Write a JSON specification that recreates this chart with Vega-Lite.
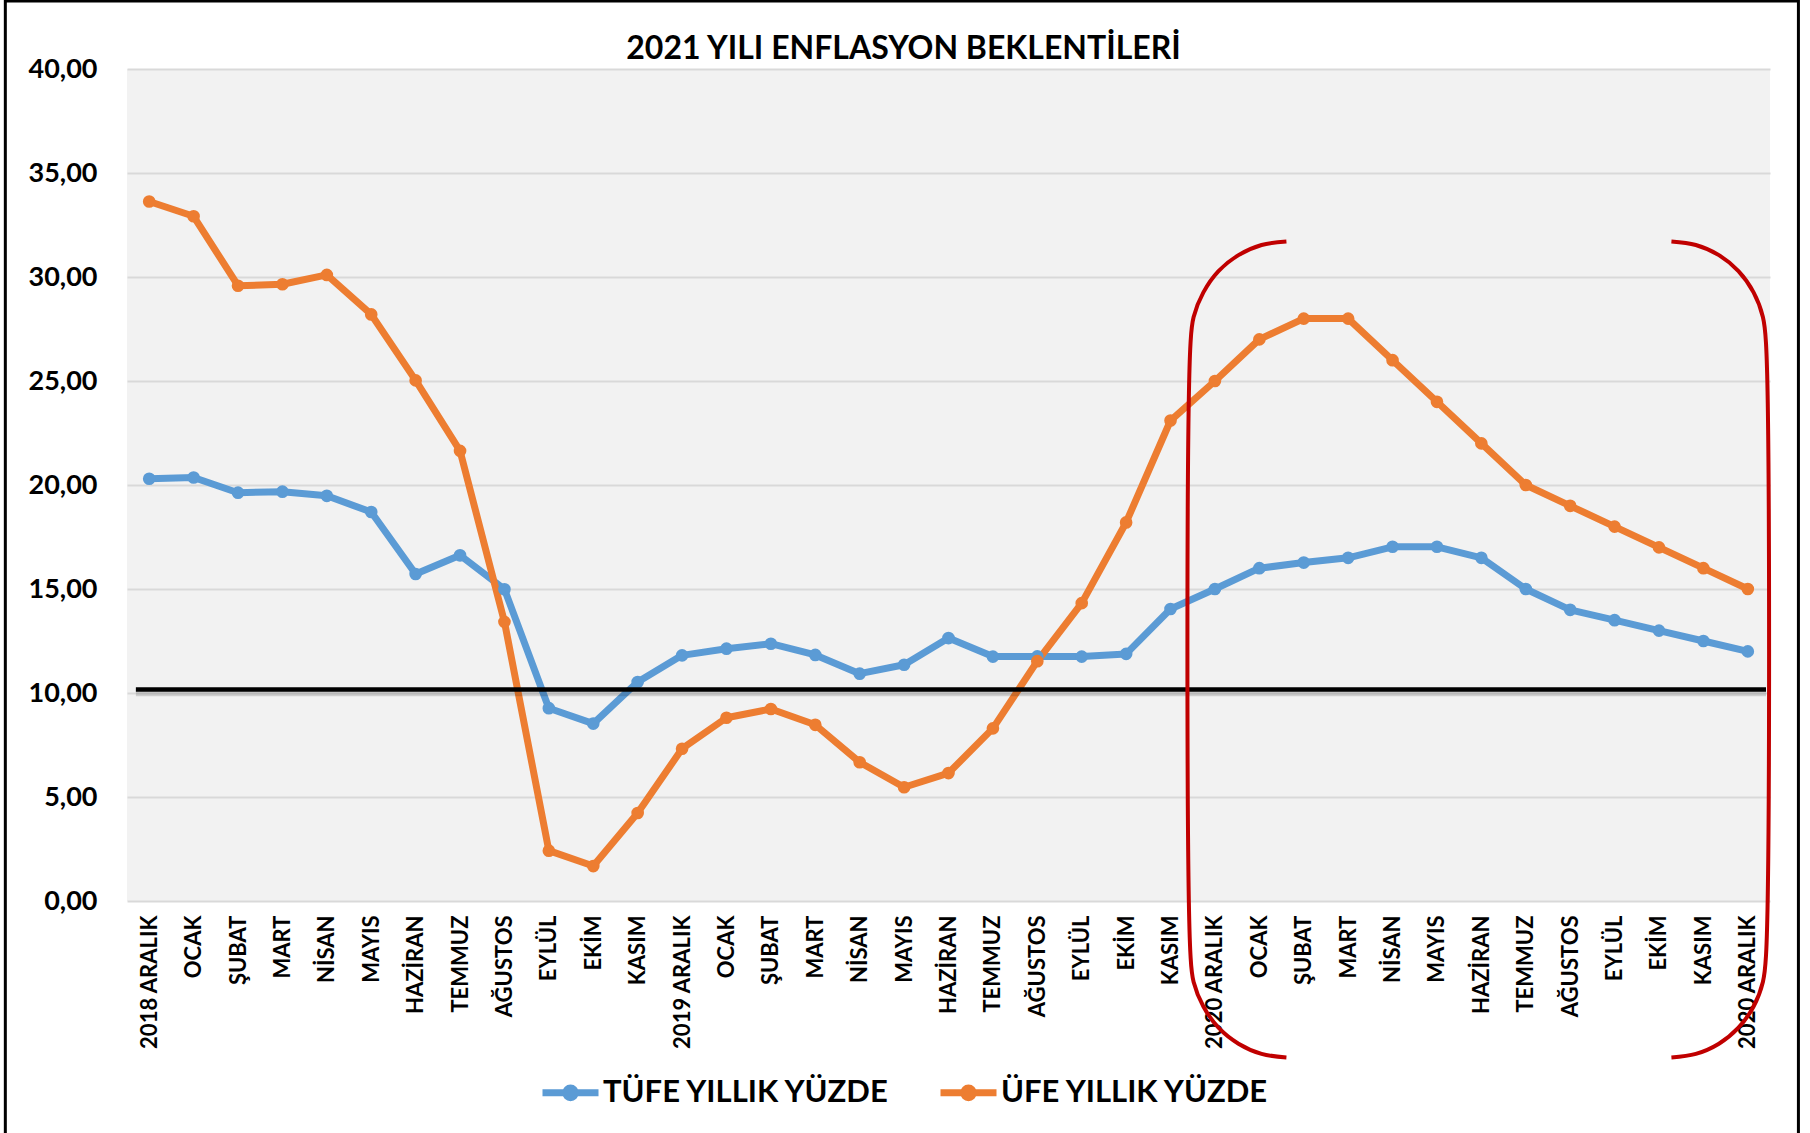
{
  "$schema": "https://vega.github.io/schema/vega-lite/v6.json",
  "width": 1643,
  "height": 832,
  "autosize": {"type": "none"},
  "padding": {"left": 127, "top": 69, "right": 40, "bottom": 232},
  "background": "white",
  "config": {
    "view": {"fill": "#F2F2F2", "stroke": null},
    "font": "Lato"
  },
  "title": {
    "text": "2021 YILI ENFLASYON BEKLENTİLERİ",
    "font": "Lato",
    "fontSize": 32,
    "fontWeight": "bold",
    "color": "#000000",
    "anchor": "middle",
    "frame": "group",
    "baseline": "alphabetic",
    "dx": -45,
    "dy": 102,
    "offset": 10
  },
  "resolve": {
    "scale": {"x": "independent", "y": "independent"},
    "axis": {"x": "independent", "y": "independent"}
  },
  "layer": [
    {
      "data": {
        "values": [
          {"ay": "2018 ARALIK", "seri": "TÜFE YILLIK YÜZDE", "deger": 20.30},
          {"ay": "OCAK", "seri": "TÜFE YILLIK YÜZDE", "deger": 20.36},
          {"ay": "ŞUBAT", "seri": "TÜFE YILLIK YÜZDE", "deger": 19.63},
          {"ay": "MART", "seri": "TÜFE YILLIK YÜZDE", "deger": 19.68},
          {"ay": "NİSAN", "seri": "TÜFE YILLIK YÜZDE", "deger": 19.48},
          {"ay": "MAYIS", "seri": "TÜFE YILLIK YÜZDE", "deger": 18.70},
          {"ay": "HAZİRAN", "seri": "TÜFE YILLIK YÜZDE", "deger": 15.72},
          {"ay": "TEMMUZ", "seri": "TÜFE YILLIK YÜZDE", "deger": 16.62},
          {"ay": "AĞUSTOS", "seri": "TÜFE YILLIK YÜZDE", "deger": 14.99},
          {"ay": "EYLÜL", "seri": "TÜFE YILLIK YÜZDE", "deger": 9.27},
          {"ay": "EKİM", "seri": "TÜFE YILLIK YÜZDE", "deger": 8.53},
          {"ay": "KASIM", "seri": "TÜFE YILLIK YÜZDE", "deger": 10.53},
          {"ay": "2019 ARALIK", "seri": "TÜFE YILLIK YÜZDE", "deger": 11.81},
          {"ay": "OCAK ", "seri": "TÜFE YILLIK YÜZDE", "deger": 12.13},
          {"ay": "ŞUBAT ", "seri": "TÜFE YILLIK YÜZDE", "deger": 12.37},
          {"ay": "MART ", "seri": "TÜFE YILLIK YÜZDE", "deger": 11.83},
          {"ay": "NİSAN ", "seri": "TÜFE YILLIK YÜZDE", "deger": 10.93},
          {"ay": "MAYIS ", "seri": "TÜFE YILLIK YÜZDE", "deger": 11.36},
          {"ay": "HAZİRAN ", "seri": "TÜFE YILLIK YÜZDE", "deger": 12.64},
          {"ay": "TEMMUZ ", "seri": "TÜFE YILLIK YÜZDE", "deger": 11.75},
          {"ay": "AĞUSTOS ", "seri": "TÜFE YILLIK YÜZDE", "deger": 11.76},
          {"ay": "EYLÜL ", "seri": "TÜFE YILLIK YÜZDE", "deger": 11.75},
          {"ay": "EKİM ", "seri": "TÜFE YILLIK YÜZDE", "deger": 11.88},
          {"ay": "KASIM ", "seri": "TÜFE YILLIK YÜZDE", "deger": 14.04},
          {"ay": "2020 ARALIK", "seri": "TÜFE YILLIK YÜZDE", "deger": 15.00},
          {"ay": "OCAK  ", "seri": "TÜFE YILLIK YÜZDE", "deger": 16.00},
          {"ay": "ŞUBAT  ", "seri": "TÜFE YILLIK YÜZDE", "deger": 16.27},
          {"ay": "MART  ", "seri": "TÜFE YILLIK YÜZDE", "deger": 16.50},
          {"ay": "NİSAN  ", "seri": "TÜFE YILLIK YÜZDE", "deger": 17.03},
          {"ay": "MAYIS  ", "seri": "TÜFE YILLIK YÜZDE", "deger": 17.03},
          {"ay": "HAZİRAN  ", "seri": "TÜFE YILLIK YÜZDE", "deger": 16.50},
          {"ay": "TEMMUZ  ", "seri": "TÜFE YILLIK YÜZDE", "deger": 15.00},
          {"ay": "AĞUSTOS  ", "seri": "TÜFE YILLIK YÜZDE", "deger": 14.00},
          {"ay": "EYLÜL  ", "seri": "TÜFE YILLIK YÜZDE", "deger": 13.50},
          {"ay": "EKİM  ", "seri": "TÜFE YILLIK YÜZDE", "deger": 13.00},
          {"ay": "KASIM  ", "seri": "TÜFE YILLIK YÜZDE", "deger": 12.50},
          {"ay": "2020 ARALIK ", "seri": "TÜFE YILLIK YÜZDE", "deger": 12.00},
          {"ay": "2018 ARALIK", "seri": "ÜFE YILLIK YÜZDE", "deger": 33.63},
          {"ay": "OCAK", "seri": "ÜFE YILLIK YÜZDE", "deger": 32.92},
          {"ay": "ŞUBAT", "seri": "ÜFE YILLIK YÜZDE", "deger": 29.58},
          {"ay": "MART", "seri": "ÜFE YILLIK YÜZDE", "deger": 29.65},
          {"ay": "NİSAN", "seri": "ÜFE YILLIK YÜZDE", "deger": 30.10},
          {"ay": "MAYIS", "seri": "ÜFE YILLIK YÜZDE", "deger": 28.20},
          {"ay": "HAZİRAN", "seri": "ÜFE YILLIK YÜZDE", "deger": 25.03},
          {"ay": "TEMMUZ", "seri": "ÜFE YILLIK YÜZDE", "deger": 21.64},
          {"ay": "AĞUSTOS", "seri": "ÜFE YILLIK YÜZDE", "deger": 13.42},
          {"ay": "EYLÜL", "seri": "ÜFE YILLIK YÜZDE", "deger": 2.42},
          {"ay": "EKİM", "seri": "ÜFE YILLIK YÜZDE", "deger": 1.68},
          {"ay": "KASIM", "seri": "ÜFE YILLIK YÜZDE", "deger": 4.23},
          {"ay": "2019 ARALIK", "seri": "ÜFE YILLIK YÜZDE", "deger": 7.32},
          {"ay": "OCAK ", "seri": "ÜFE YILLIK YÜZDE", "deger": 8.81},
          {"ay": "ŞUBAT ", "seri": "ÜFE YILLIK YÜZDE", "deger": 9.23},
          {"ay": "MART ", "seri": "ÜFE YILLIK YÜZDE", "deger": 8.47},
          {"ay": "NİSAN ", "seri": "ÜFE YILLIK YÜZDE", "deger": 6.67},
          {"ay": "MAYIS ", "seri": "ÜFE YILLIK YÜZDE", "deger": 5.47},
          {"ay": "HAZİRAN ", "seri": "ÜFE YILLIK YÜZDE", "deger": 6.15},
          {"ay": "TEMMUZ ", "seri": "ÜFE YILLIK YÜZDE", "deger": 8.30},
          {"ay": "AĞUSTOS ", "seri": "ÜFE YILLIK YÜZDE", "deger": 11.53},
          {"ay": "EYLÜL ", "seri": "ÜFE YILLIK YÜZDE", "deger": 14.32},
          {"ay": "EKİM ", "seri": "ÜFE YILLIK YÜZDE", "deger": 18.20},
          {"ay": "KASIM ", "seri": "ÜFE YILLIK YÜZDE", "deger": 23.10},
          {"ay": "2020 ARALIK", "seri": "ÜFE YILLIK YÜZDE", "deger": 25.00},
          {"ay": "OCAK  ", "seri": "ÜFE YILLIK YÜZDE", "deger": 27.00},
          {"ay": "ŞUBAT  ", "seri": "ÜFE YILLIK YÜZDE", "deger": 28.00},
          {"ay": "MART  ", "seri": "ÜFE YILLIK YÜZDE", "deger": 28.00},
          {"ay": "NİSAN  ", "seri": "ÜFE YILLIK YÜZDE", "deger": 26.00},
          {"ay": "MAYIS  ", "seri": "ÜFE YILLIK YÜZDE", "deger": 24.00},
          {"ay": "HAZİRAN  ", "seri": "ÜFE YILLIK YÜZDE", "deger": 22.00},
          {"ay": "TEMMUZ  ", "seri": "ÜFE YILLIK YÜZDE", "deger": 20.00},
          {"ay": "AĞUSTOS  ", "seri": "ÜFE YILLIK YÜZDE", "deger": 19.00},
          {"ay": "EYLÜL  ", "seri": "ÜFE YILLIK YÜZDE", "deger": 18.00},
          {"ay": "EKİM  ", "seri": "ÜFE YILLIK YÜZDE", "deger": 17.00},
          {"ay": "KASIM  ", "seri": "ÜFE YILLIK YÜZDE", "deger": 16.00},
          {"ay": "2020 ARALIK ", "seri": "ÜFE YILLIK YÜZDE", "deger": 15.00}
        ]
      },
      "mark": {
        "type": "line",
        "strokeWidth": 7,
        "strokeJoin": "round",
        "point": {"filled": true, "size": 160, "opacity": 1}
      },
      "encoding": {
        "x": {
          "field": "ay",
          "type": "ordinal",
          "sort": null,
          "scale": {"type": "point", "padding": 0.5},
          "axis": {
            "title": null,
            "labelExpr": "trim(datum.label)",
            "labelAngle": 270,
            "labelFont": "Lato",
            "labelFontWeight": "bold",
            "labelFontSize": 22,
            "labelColor": "#000000",
            "labelPadding": 14,
            "labelOverlap": false,
            "labelLimit": 300,
            "ticks": false,
            "domain": false,
            "grid": false
          }
        },
        "y": {
          "field": "deger",
          "type": "quantitative",
          "scale": {"domain": [0, 40], "nice": false, "zero": false},
          "axis": {
            "title": null,
            "values": [0, 5, 10, 15, 20, 25, 30, 35, 40],
            "labelExpr": "replace(format(datum.value, '.2f'), '.', ',')",
            "labelFont": "Lato",
            "labelFontWeight": "bold",
            "labelFontSize": 27,
            "labelColor": "#000000",
            "labelPadding": 30,
            "ticks": false,
            "domain": false,
            "grid": true,
            "gridColor": "#D9D9D9",
            "gridWidth": 2
          }
        },
        "color": {
          "field": "seri",
          "type": "nominal",
          "sort": null,
          "scale": {
            "domain": ["TÜFE YILLIK YÜZDE", "ÜFE YILLIK YÜZDE"],
            "range": ["#5B9BD5", "#ED7D31"]
          },
          "legend": {
            "title": null,
            "orient": "none",
            "legendX": 412,
            "legendY": 992,
            "direction": "horizontal",
            "symbolType": "M-1,0L1,0M-0.17,0A0.17,0.17 0 1,1 0.17,0A0.17,0.17 0 1,1 -0.17,0Z",
            "symbolSize": 3136,
            "symbolStrokeWidth": 7,
            "labelFont": "Lato",
            "labelFontSize": 31,
            "labelFontWeight": "bold",
            "labelColor": "#000000",
            "labelOffset": 1,
            "labelLimit": 600,
            "columnPadding": 35
          }
        }
      }
    },
    {
      "layer": [
        {
          "data": {"values": [{"konum": 0.7, "konum2": 37.41, "deger": 10.04}]},
          "mark": {"type": "rule", "color": "#000000", "opacity": 0.15, "strokeWidth": 8},
          "encoding": {
            "x": {"field": "konum", "type": "quantitative", "scale": {"domain": [0.5, 37.5], "nice": false, "zero": false}, "axis": null},
            "x2": {"field": "konum2"},
            "y": {"field": "deger", "type": "quantitative", "scale": {"domain": [0, 40], "nice": false, "zero": false}, "axis": null}
          }
        },
        {
          "data": {"values": [{"konum": 0.7, "konum2": 37.41, "deger": 10.17}]},
          "mark": {"type": "rule", "color": "#000000", "strokeWidth": 4.5},
          "encoding": {
            "x": {"field": "konum", "type": "quantitative", "scale": {"domain": [0.5, 37.5], "nice": false, "zero": false}, "axis": null},
            "x2": {"field": "konum2"},
            "y": {"field": "deger", "type": "quantitative", "scale": {"domain": [0, 40], "nice": false, "zero": false}, "axis": null}
          }
        },
        {
          "data": {
            "values": [
              {"parca": "sol", "sira": 1, "konum": 26.61, "deger": 31.71},
              {"parca": "sol", "sira": 2, "konum": 26.05, "deger": 31.54},
              {"parca": "sol", "sira": 3, "konum": 25.53, "deger": 31.05},
              {"parca": "sol", "sira": 4, "konum": 25.08, "deger": 30.28},
              {"parca": "sol", "sira": 5, "konum": 24.74, "deger": 29.26},
              {"parca": "sol", "sira": 6, "konum": 24.52, "deger": 28.08},
              {"parca": "sol", "sira": 7, "konum": 24.45, "deger": 26.81},
              {"parca": "sol", "sira": 8, "konum": 24.45, "deger": -2.62},
              {"parca": "sol", "sira": 9, "konum": 24.52, "deger": -3.89},
              {"parca": "sol", "sira": 10, "konum": 24.74, "deger": -5.07},
              {"parca": "sol", "sira": 11, "konum": 25.08, "deger": -6.09},
              {"parca": "sol", "sira": 12, "konum": 25.53, "deger": -6.86},
              {"parca": "sol", "sira": 13, "konum": 26.05, "deger": -7.35},
              {"parca": "sol", "sira": 14, "konum": 26.61, "deger": -7.52},
              {"parca": "sag", "sira": 1, "konum": 35.28, "deger": 31.71},
              {"parca": "sag", "sira": 2, "konum": 35.83, "deger": 31.54},
              {"parca": "sag", "sira": 3, "konum": 36.35, "deger": 31.05},
              {"parca": "sag", "sira": 4, "konum": 36.79, "deger": 30.28},
              {"parca": "sag", "sira": 5, "konum": 37.13, "deger": 29.26},
              {"parca": "sag", "sira": 6, "konum": 37.34, "deger": 28.08},
              {"parca": "sag", "sira": 7, "konum": 37.41, "deger": 26.81},
              {"parca": "sag", "sira": 8, "konum": 37.41, "deger": -2.62},
              {"parca": "sag", "sira": 9, "konum": 37.34, "deger": -3.89},
              {"parca": "sag", "sira": 10, "konum": 37.13, "deger": -5.07},
              {"parca": "sag", "sira": 11, "konum": 36.79, "deger": -6.09},
              {"parca": "sag", "sira": 12, "konum": 36.35, "deger": -6.86},
              {"parca": "sag", "sira": 13, "konum": 35.83, "deger": -7.35},
              {"parca": "sag", "sira": 14, "konum": 35.28, "deger": -7.52}
            ]
          },
          "mark": {"type": "line", "color": "#C00000", "strokeWidth": 4, "interpolate": "catmull-rom", "clip": false},
          "encoding": {
            "x": {"field": "konum", "type": "quantitative", "scale": {"domain": [0.5, 37.5], "nice": false, "zero": false}, "axis": null},
            "y": {"field": "deger", "type": "quantitative", "scale": {"domain": [0, 40], "nice": false, "zero": false}, "axis": null},
            "detail": {"field": "parca", "type": "nominal"},
            "order": {"field": "sira", "type": "quantitative"}
          }
        },
        {
          "data": {"values": [{"konum": -2.24, "konum2": 38.14, "deger": 43.27, "deger2": -11.5}]},
          "mark": {"type": "rect", "fillOpacity": 0, "stroke": "#000000", "strokeWidth": 3, "clip": false},
          "encoding": {
            "x": {"field": "konum", "type": "quantitative", "scale": {"domain": [0.5, 37.5], "nice": false, "zero": false}, "axis": null},
            "x2": {"field": "konum2"},
            "y": {"field": "deger", "type": "quantitative", "scale": {"domain": [0, 40], "nice": false, "zero": false}, "axis": null},
            "y2": {"field": "deger2"}
          }
        }
      ]
    }
  ]
}
